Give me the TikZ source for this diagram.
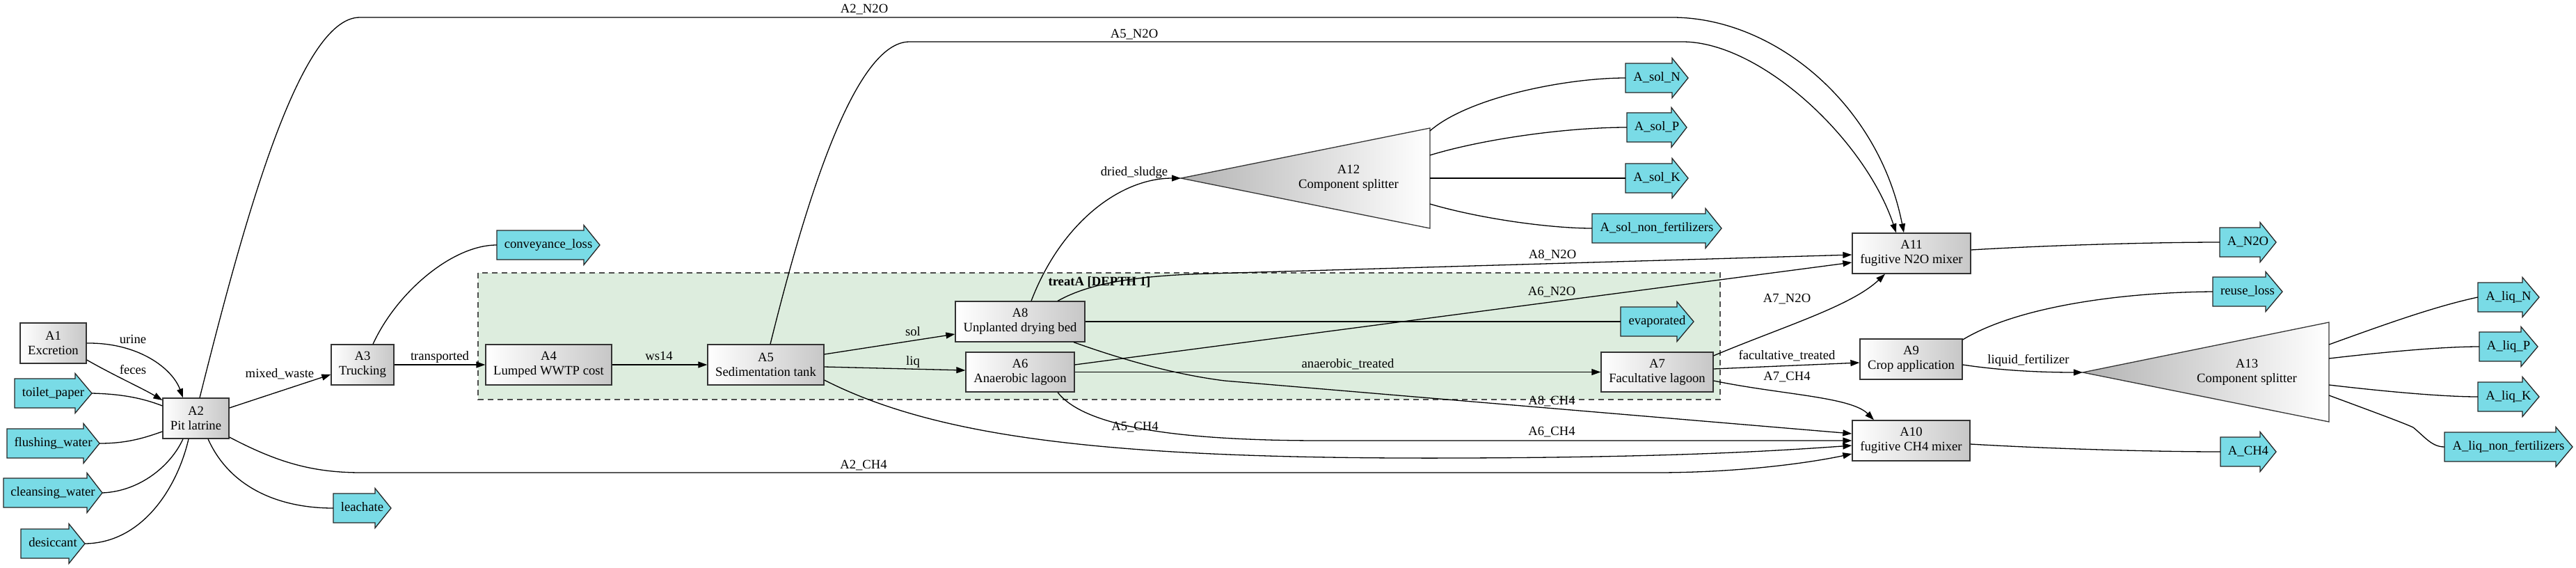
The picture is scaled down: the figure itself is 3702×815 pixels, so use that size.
\documentclass[tikz,border=0pt]{standalone}
\usepackage{fontspec}
\setmainfont{Liberation Serif}
\usetikzlibrary{arrows.meta}
\definecolor{flowc}{RGB}{121,219,230}
\definecolor{clusterc}{RGB}{221,237,222}
\newcommand\gvfont{\fontsize{18.67}{21}\selectfont}
\newcommand\outarrow[6]{%
  \draw[outarr] (#2,#5-21) -- (#3,#5-21) -- (#3,#5-28.5) -- (#4,#5) -- (#3,#5+28.5) -- (#3,#5+21) -- (#2,#5+21) -- cycle;
  \node[lbl, minimum width={#4-#2}, minimum height=42] (#1) at ({(#2+#4)/2},#5) {#6};
}
\tikzset{
  proc/.style={draw=black!80, line width=1.3pt, left color=white, right color=black!22, align=center, inner sep=0pt, font=\gvfont},
  tri/.style={draw=black!80, line width=1.3pt, left color=black!30, right color=white},
  outarr/.style={draw=black!85, fill=flowc, line width=1.3pt},
  edge/.style={line width=1.3pt, -{Triangle[length=13pt,width=9pt]}},
  link/.style={line width=1.3pt},
  lbl/.style={font=\gvfont, inner sep=0pt, text height=13pt, text depth=4pt},
  cluster/.style={draw=black!70, fill=clusterc, line width=1.6pt, dash pattern=on 8pt off 6pt},
}
\begin{document}
\begin{tikzpicture}[x=1pt,y=-1pt]
\useasboundingbox (0,0) rectangle (3702,815);
% cluster
\draw[cluster] (687,392) rectangle (2472,574);
\node[lbl, font=\gvfont\bfseries] (treatA) at (1580,406) {treatA [DEPTH 1]};

% process nodes
\node[proc, minimum width=95, minimum height=58] (A1) at (76.5,493) {A1\\Excretion};
\node[proc, minimum width=95, minimum height=58] (A2) at (281.5,601) {A2\\Pit latrine};
\node[proc, minimum width=90, minimum height=58] (A3) at (521,524) {A3\\Trucking};
\node[proc, minimum width=181, minimum height=58] (A4) at (788.5,524) {A4\\Lumped WWTP cost};
\node[proc, minimum width=167, minimum height=58] (A5) at (1100.5,524) {A5\\Sedimentation tank};
\node[proc, minimum width=186, minimum height=58] (A8) at (1466,462) {A8\\Unplanted drying bed};
\node[proc, minimum width=156, minimum height=57] (A6) at (1466,534.5) {A6\\Anaerobic lagoon};
\node[proc, minimum width=161, minimum height=57] (A7) at (2381.5,534.5) {A7\\Facultative lagoon};
\node[proc, minimum width=147, minimum height=58] (A9) at (2746.5,516) {A9\\Crop application};
\node[proc, minimum width=169, minimum height=58] (A10) at (2746.5,633) {A10\\fugitive CH4 mixer};
\node[proc, minimum width=170, minimum height=58] (A11) at (2747,364) {A11\\fugitive N2O mixer};

% splitters
\draw[tri] (1697,256) -- (2055,184) -- (2055,328) -- cycle;
\node[lbl, align=center, text height=, text depth=] (A12) at (1938,256) {A12\\Component splitter};
\coordinate (A12in) at (1697,256);
\coordinate (A12o1) at (2055,188);
\coordinate (A12o2) at (2055,223);
\coordinate (A12o3) at (2055,256);
\coordinate (A12o4) at (2055,293);
\draw[tri] (2993,535) -- (3347,463) -- (3347,606) -- cycle;
\node[lbl, align=center, text height=, text depth=] (A13) at (3229,535) {A13\\Component splitter};
\coordinate (A13in) at (2993,535);
\coordinate (A13o1) at (3347,495);
\coordinate (A13o2) at (3347,515);
\coordinate (A13o3) at (3347,553);
\coordinate (A13o4) at (3347,568);

% flow arrows
\outarrow{tp}{21}{108}{132}{565}{toilet\_paper}
\outarrow{fw}{10}{120}{143}{637}{flushing\_water}
\outarrow{cw}{5}{125}{147}{708}{cleansing\_water}
\outarrow{de}{30}{99}{122}{781}{desiccant}
\outarrow{le}{479}{539}{562}{730}{leachate}
\outarrow{cl}{714}{839}{862}{352}{conveyance\_loss}
\outarrow{ev}{2329}{2410}{2434}{462}{evaporated}
\outarrow{sN}{2336}{2403}{2426}{112}{A\_sol\_N}
\outarrow{sP}{2338}{2402}{2424}{183}{A\_sol\_P}
\outarrow{sK}{2336}{2403}{2426}{256}{A\_sol\_K}
\outarrow{sX}{2288}{2451}{2474}{328}{A\_sol\_non\_fertilizers}
\outarrow{aN}{3190}{3248}{3271}{348}{A\_N2O}
\outarrow{rl}{3180}{3256}{3280}{419}{reuse\_loss}
\outarrow{aC}{3191}{3248}{3271}{649}{A\_CH4}
\outarrow{lN}{3561}{3625}{3649}{427}{A\_liq\_N}
\outarrow{lP}{3563}{3623}{3647}{498}{A\_liq\_P}
\outarrow{lK}{3561}{3625}{3649}{570}{A\_liq\_K}
\outarrow{lX}{3513}{3673}{3697}{642}{A\_liq\_non\_fertilizers}

% edges into A2
\draw[edge] (A1.east) .. controls (200,492) and (248,530) .. ([shift={(-18.5,0)}]A2.north);
\draw[edge] ([shift={(0,24)}]A1.east) .. controls (165,540) and (205,558) .. ([shift={(0,-26)}]A2.west);
\draw[link] (tp.east) .. controls (175,566) and (205,572) .. ([shift={(0,-18)}]A2.west);
\draw[link] (fw.east) .. controls (185,637) and (210,628) .. ([shift={(0,19)}]A2.west);
\draw[link] (cw.east) .. controls (200,706) and (245,670) .. ([shift={(-18.5,0)}]A2.south);
\draw[link] (de.east) .. controls (205,780) and (255,700) .. ([shift={(-10.5,0)}]A2.south);
\draw[link] ([shift={(17.5,0)}]A2.south) .. controls (330,700) and (400,730) .. (le.west);
% main chain
\draw[edge] ([shift={(0,-15)}]A2.east) -- ([shift={(0,14)}]A3.west);
\draw[edge] (A3.east) -- (A4.west);
\draw[link] ([shift={(15,0)}]A3.north) .. controls (570,420) and (650,352) .. (cl.west);
\draw[edge] (A4.east) -- (A5.west);
\draw[edge] ([shift={(0,-15)}]A5.east) -- ([shift={(0,18)}]A8.west);
\draw[edge] ([shift={(0,3)}]A5.east) -- ([shift={(0,-2.5)}]A6.west);
\draw[edge] (A6.east) -- (A7.west);
\draw[link] (A8.east) -- (ev.west);
\draw[edge] ([shift={(16,0)}]A8.north) .. controls (1525,320) and (1610,256) .. (A12in);
% N2O edges
\draw[edge] ([shift={(5.5,0)}]A2.north) .. controls (350,320) and (430,25) .. (517,25) -- (2403,25) .. controls (2550,25) and (2700,150) .. ([shift={(-11,0)}]A11.north);
\draw[edge] ([shift={(6.5,0)}]A5.north) .. controls (1160,280) and (1230,60) .. (1307,60) -- (2418,60) .. controls (2530,60) and (2680,200) .. ([shift={(-22,0)}]A11.north);
\draw[edge] ([shift={(54,0)}]A8.north) .. controls (1560,410) and (1620,396) .. (1740,393) -- ([shift={(0,2)}]A11.west);
\draw[edge] ([shift={(0,-10.5)}]A6.east) -- ([shift={(0,13)}]A11.west);
\draw[edge] ([shift={(0,-23.5)}]A7.east) .. controls (2560,470) and (2660,440) .. ([shift={(-38,0)}]A11.south);
% CH4 edges
\draw[edge] ([shift={(77,0)}]A8.south) .. controls (1600,512) and (1680,537) .. (1760,547) -- ([shift={(0,-10)}]A10.west);
\draw[edge] ([shift={(54,0)}]A6.south) .. controls (1560,615) and (1700,633) .. (1900,633) -- (A10.west);
\draw[edge] ([shift={(0,22)}]A5.east) .. controls (1350,630) and (1600,660) .. (2100,658) .. controls (2400,657) and (2550,648) .. ([shift={(0,7)}]A10.west);
\draw[edge] ([shift={(0,27)}]A2.east) .. controls (400,665) and (450,679) .. (520,679) -- (2380,679) .. controls (2500,679) and (2600,665) .. ([shift={(0,19)}]A10.west);
\draw[edge] ([shift={(0,12.5)}]A7.east) .. controls (2560,567) and (2660,570) .. ([shift={(-53.5,0)}]A10.north);
% reuse
\draw[edge] ([shift={(0,-4.5)}]A7.east) -- ([shift={(0,5)}]A9.west);
\draw[link] ([shift={(0,-28)}]A9.east) .. controls (2900,440) and (3050,420) .. (rl.west);
\draw[edge] ([shift={(0,8)}]A9.east) .. controls (2880,533) and (2940,535) .. (A13in);
\draw[link] ([shift={(0,-5)}]A11.east) .. controls (2950,352) and (3100,348) .. (aN.west);
\draw[link] ([shift={(0,5)}]A10.east) .. controls (2950,645) and (3100,649) .. (aC.west);
% splitter outputs
\draw[link] (A12o1) .. controls (2110,140) and (2250,112) .. (sN.west);
\draw[link] (A12o2) .. controls (2130,200) and (2250,183) .. (sP.west);
\draw[link] (A12o3) -- (sK.west);
\draw[link] (A12o4) .. controls (2130,315) and (2230,328) .. (sX.west);
\draw[link] (A13o1) .. controls (3430,465) and (3500,440) .. (lN.west);
\draw[link] (A13o2) .. controls (3450,503) and (3520,498) .. (lP.west);
\draw[link] (A13o3) .. controls (3450,565) and (3520,570) .. (lK.west);
\draw[link] (A13o4) .. controls (3420,595) and (3455,608) .. (3468,614) .. controls (3485,628) and (3495,642) .. (lX.west);

% edge labels
\node[lbl] (l1) at (191,489) {urine};
\node[lbl] (l2) at (191,533) {feces};
\node[lbl] (l3) at (402,538) {mixed\_waste};
\node[lbl] (l4) at (632,513) {transported};
\node[lbl] (l5) at (947,513) {ws14};
\node[lbl] (l6) at (1312,478) {sol};
\node[lbl] (l7) at (1312,520) {liq};
\node[lbl] (l8) at (1937,524) {anaerobic\_treated};
\node[lbl] (l9) at (2230,420) {A6\_N2O};
\node[lbl] (l10) at (2230,577) {A8\_CH4};
\node[lbl] (l11) at (2230,621) {A6\_CH4};
\node[lbl] (l12) at (1631,614) {A5\_CH4};
\node[lbl] (l13) at (1241,669) {A2\_CH4};
\node[lbl] (l14) at (1242,14) {A2\_N2O};
\node[lbl] (l15) at (1630,50) {A5\_N2O};
\node[lbl] (l16) at (1630,248) {dried\_sludge};
\node[lbl] (l17) at (2231,367) {A8\_N2O};
\node[lbl] (l18) at (2568,430) {A7\_N2O};
\node[lbl] (l19) at (2568,512) {facultative\_treated};
\node[lbl] (l20) at (2568,542) {A7\_CH4};
\node[lbl] (l21) at (2915,518) {liquid\_fertilizer};
\end{tikzpicture}
\end{document}
